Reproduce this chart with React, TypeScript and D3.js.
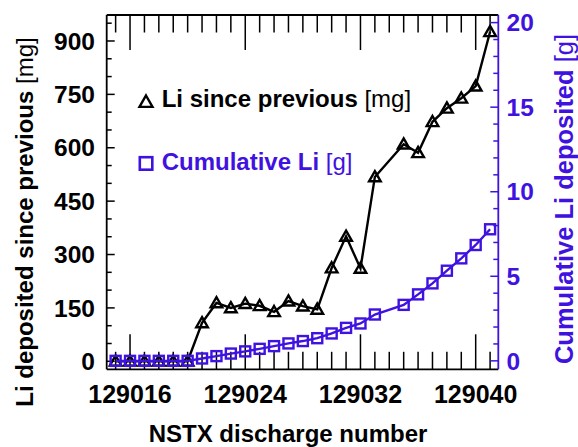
import React from "react";
import * as d3 from "d3";

const shots = [
  129015, 129016, 129017, 129018, 129019, 129020, 129021, 129022, 129023, 129024,
  129025, 129026, 129027, 129028, 129029, 129030, 129031, 129032, 129033, 129035,
  129036, 129037, 129038, 129039, 129040, 129041,
];
const sincePrevious = [
  0, 0, 0, 0, 0, 0, 108, 164, 150, 162, 156, 139, 169, 155, 146, 262, 351, 261, 518,
  610, 586, 673, 711, 739, 773, 926,
];
const cumulative = [
  0, 0, 0, 0, 0, 0, 0.14, 0.28, 0.43, 0.56, 0.71, 0.87, 1.03, 1.17, 1.34, 1.62, 1.95,
  2.21, 2.74, 3.31, 3.93, 4.58, 5.33, 6.06, 6.85, 7.78,
];
const xMajorTicks = [129016, 129024, 129032, 129040];
const leftMajorTicks = [0, 150, 300, 450, 600, 750, 900];
const rightMajorTicks = [0, 5, 10, 15, 20];

const BLUE = "#3f12e0";
const FONT = "'Liberation Sans', Arial, Helvetica, sans-serif";

export default function App() {
  const W = 578;
  const H = 447;
  const L = 106.7;
  const R = 498.3;
  const T = 15;
  const B = 369.3;

  const x = d3.scaleLinear().domain([129014.38, 129041.57]).range([L, R]);
  const yL = d3.scaleLinear().domain([-22.5, 973]).range([B, T]);
  const yR = d3.scaleLinear().domain([-0.5, 20.45]).range([B, T]);

  const xMinor = d3.range(129015, 129042, 1);
  const leftMinor = d3.range(0, 951, 50);
  const rightMinor = d3.range(0, 21, 1);

  const lineL = d3
    .line<number>()
    .x((_, i) => x(shots[i]))
    .y((d) => yL(d));
  const lineR = d3
    .line<number>()
    .x((_, i) => x(shots[i]))
    .y((d) => yR(d));

  const tri = (cx: number, cy: number, s = 5.8) =>
    `M${cx},${cy - s} L${cx + s},${cy + s * 0.75} L${cx - s},${cy + s * 0.75} Z`;

  return (
    <svg
      width={W}
      height={H}
      style={{ position: "absolute", left: 0, top: 0, background: "#fff" }}
      fontFamily={FONT}
    >
      {/* bottom & top x ticks */}
      {xMinor.map((v) => {
        const major = xMajorTicks.includes(v);
        const len = major ? 35 : 17.5;
        return (
          <g key={"xt" + v} stroke="#000" strokeWidth={1.5}>
            <line x1={x(v)} x2={x(v)} y1={B} y2={B - len} />
            <line x1={x(v)} x2={x(v)} y1={T} y2={T + len} />
          </g>
        );
      })}
      {/* left ticks */}
      {leftMinor.map((v) => {
        const major = leftMajorTicks.includes(v);
        return (
          <line
            key={"lt" + v}
            x1={L}
            x2={L + (major ? 8 : 5)}
            y1={yL(v)}
            y2={yL(v)}
            stroke="#000"
            strokeWidth={1.5}
          />
        );
      })}
      {/* right ticks */}
      {rightMinor.map((v) => {
        const major = rightMajorTicks.includes(v);
        return (
          <line
            key={"rt" + v}
            x1={R}
            x2={R - (major ? 8 : 5)}
            y1={yR(v)}
            y2={yR(v)}
            stroke={BLUE}
            strokeWidth={1.5}
          />
        );
      })}
      {/* frame */}
      <line x1={L} x2={R} y1={T} y2={T} stroke="#000" strokeWidth={1.8} />
      <line x1={L} x2={R} y1={B} y2={B} stroke="#000" strokeWidth={1.8} />
      <line x1={L} x2={L} y1={T} y2={B} stroke="#000" strokeWidth={1.8} />
      <line x1={R} x2={R} y1={T} y2={B} stroke={BLUE} strokeWidth={1.8} />

      {/* tick labels */}
      {xMajorTicks.map((v) => (
        <text
          key={"xl" + v}
          x={x(v)}
          y={403}
          textAnchor="middle"
          fontWeight="bold"
          fontSize={25}
          fill="#000"
        >
          {v}
        </text>
      ))}
      {leftMajorTicks.map((v) => (
        <text
          key={"ll" + v}
          x={95}
          y={yL(v) + 8.7}
          textAnchor="end"
          fontWeight="bold"
          fontSize={24.5}
          fill="#000"
        >
          {v}
        </text>
      ))}
      {rightMajorTicks.map((v) => (
        <text
          key={"rl" + v}
          x={506.5}
          y={yR(v) + 8.7}
          textAnchor="start"
          fontWeight="bold"
          fontSize={24.5}
          fill={BLUE}
        >
          {v}
        </text>
      ))}

      {/* axis titles */}
      <text x={288} y={442} textAnchor="middle" fontWeight="bold" fontSize={24}>
        NSTX discharge number
      </text>
      <text
        transform="translate(33,222) rotate(-90)"
        textAnchor="middle"
        fontSize={24}
        fill="#000"
      >
        <tspan fontWeight="bold">Li deposited since previous </tspan>
        <tspan>[mg]</tspan>
      </text>
      <text
        transform="translate(573,199) rotate(-90)"
        textAnchor="middle"
        fontSize={25.5}
        fill={BLUE}
      >
        <tspan fontWeight="bold">Cumulative Li deposited </tspan>
        <tspan>[g]</tspan>
      </text>

      {/* black series */}
      <path d={lineL(sincePrevious) || ""} fill="none" stroke="#000" strokeWidth={2.4} />
      {sincePrevious.map((v, i) => (
        <path
          key={"tr" + i}
          d={tri(x(shots[i]), yL(v))}
          fill="none"
          stroke="#000"
          strokeWidth={2.4}
        />
      ))}

      {/* blue series */}
      <path d={lineR(cumulative) || ""} fill="none" stroke={BLUE} strokeWidth={2.4} />
      {cumulative.map((v, i) => (
        <rect
          key={"sq" + i}
          x={x(shots[i]) - 5}
          y={yR(v) - 5}
          width={10}
          height={10}
          fill="none"
          stroke={BLUE}
          strokeWidth={2.4}
        />
      ))}

      {/* legend */}
      <path d={tri(146, 102, 6.5)} fill="none" stroke="#000" strokeWidth={2.4} />
      <text x={161.7} y={107.3} fontSize={24} fill="#000">
        <tspan fontWeight="bold">Li since previous </tspan>
        <tspan>[mg]</tspan>
      </text>
      <rect x={139.8} y={157.2} width={12.5} height={12.5} fill="none" stroke={BLUE} strokeWidth={2.6} />
      <text x={161.7} y={170} fontSize={24} fill={BLUE}>
        <tspan fontWeight="bold">Cumulative Li </tspan>
        <tspan>[g]</tspan>
      </text>
    </svg>
  );
}
